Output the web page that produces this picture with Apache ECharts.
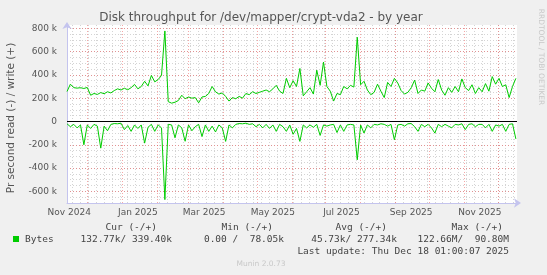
<!DOCTYPE html>
<html>
<head>
<meta charset="utf-8">
<script src="https://cdn.jsdelivr.net/npm/echarts@6/dist/echarts.min.js"></script>
<style>
  html, body { margin: 0; padding: 0; background: #f0f0f0; }
  #chart { width: 547px; height: 275px; }
</style>
</head>
<body>
<div id="chart"></div>
<script>
const DAY = 86400000;
// graph spans 400 days ending at last update
const startTime = Date.UTC(2024, 10, 13, 1, 0, 7);
const endTime = startTime + 400 * DAY;
const stepDays = 3;

// write bytes/s (k), one value per 3 days
const writeK = [
  257, 320, 290, 286, 290, 283, 292, 225, 240, 232,
  248, 238, 255, 245, 265, 280, 270, 285, 272, 290,
  318, 280, 300, 345, 305, 395, 340, 360, 395, 777,
  170, 157, 165, 180, 225, 195, 210, 200, 205, 160,
  210, 215, 240, 300, 255, 235, 245, 215, 175, 205,
  195, 215, 200, 240, 230, 255, 240, 250, 260, 270,
  255, 280, 310, 260, 240, 370, 290, 350, 300, 455,
  220, 255, 290, 235, 440, 310, 510, 300, 260, 175,
  240, 230, 300, 280, 310, 295, 723, 315, 345, 270,
  230, 250, 320, 260, 205, 335, 300, 370, 330, 265,
  235, 250, 290, 355, 240, 270, 260, 330, 285, 255,
  360, 270, 225, 290, 250, 300, 255, 365, 290, 265,
  315, 240, 290, 255, 325, 260, 385, 320, 370, 300,
  315, 205, 300, 370
];

// read bytes/s (k), drawn below zero
const readK = [
  -20, -45, -25, -55, -30, -200, -30, -60, -25, -40,
  -229, -40, -80, -25, -18, -20, -15, -70, -35, -85,
  -30, -60, -30, -186, -50, -25, -85, -30, -55, -671,
  -25, -30, -140, -30, -55, -170, -30, -80, -45, -25,
  -130, -30, -85, -40, -90, -30, -55, -171, -30, -55,
  -25, -18, -20, -15, -25, -20, -45, -25, -55, -25,
  -60, -30, -85, -25, -45, -85, -30, -110, -60, -171,
  -30, -55, -30, -50, -25, -120, -30, -40, -30, -25,
  -95, -30, -85, -30, -25, -30, -329, -30, -100, -30,
  -55, -25, -30, -20, -25, -40, -25, -157, -30, -25,
  -40, -20, -18, -45, -85, -25, -45, -25, -55, -100,
  -25, -45, -25, -40, -55, -25, -30, -20, -70, -25,
  -20, -45, -25, -25, -55, -25, -85, -30, -40, -25,
  -85, -25, -20, -150
];

const yMajorTicks = [-600, -400, -200, 0, 200, 400, 600, 800];
const monthStarts = [
  '2024-12-01', '2025-01-01', '2025-02-01', '2025-03-01', '2025-04-01', '2025-05-01',
  '2025-06-01', '2025-07-01', '2025-08-01', '2025-09-01', '2025-10-01', '2025-11-01', '2025-12-01'
];
const xLabels = ['Nov 2024', 'Jan 2025', 'Mar 2025', 'May 2025', 'Jul 2025', 'Sep 2025', 'Nov 2025'];
const xLabelDays = ['2024-11-15', '2025-01-15', '2025-03-15', '2025-05-15', '2025-07-15', '2025-09-15', '2025-11-15'];

const toTime = s => Date.parse(s + 'T00:00:00Z');
const majorX = monthStarts.map(toTime);
const labelX = xLabelDays.map(toTime);

const minorX = [];
for (let t = toTime('2024-11-18'); t < endTime; t += 7 * DAY) minorX.push(t);
const minorY = [];
for (let v = -650; v <= 800; v += 50) minorY.push(v);

const yMin = -700, yMax = 828;

const writeData = writeK.map((v, i) => [startTime + i * stepDays * DAY, v]);
const readData = readK.map((v, i) => [startTime + i * stepDays * DAY, v]);

const green = '#00cc00';
const axisBlue = '#c4c4ee';
const majorGrid = { color: 'rgba(235, 80, 80, 0.5)', width: 1, type: [1, 2] };
const minorGrid = { color: '#d4d4d4', width: 1, type: [1, 2] };

const chart = echarts.init(document.getElementById('chart'));
chart.setOption({
  backgroundColor: '#f0f0f0',
  animation: false,
  grid: {
    left: 67, right: 30, top: 25, bottom: 72,
    show: true, backgroundColor: '#ffffff', borderWidth: 0
  },
  xAxis: [
    {
      type: 'value', min: startTime, max: endTime, z: 2,
      axisLine: { show: true, onZero: false, lineStyle: { color: axisBlue, width: 1 },
        symbol: ['none', 'arrow'], symbolSize: [7, 7], symbolOffset: [0, 4] },
      axisTick: { show: false, customValues: majorX },
      axisLabel: {
        customValues: labelX, color: '#555', fontFamily: 'DejaVu Sans', fontSize: 9, margin: 5,
        formatter: v => xLabels[labelX.indexOf(v)] || ''
      },
      splitLine: { show: true, lineStyle: majorGrid }
    },
    {
      type: 'value', min: startTime, max: endTime, z: 1,
      axisLine: { show: false },
      axisTick: { show: false, customValues: minorX },
      axisLabel: { show: false, customValues: minorX },
      splitLine: { show: true, lineStyle: minorGrid }
    }
  ],
  yAxis: [
    {
      type: 'value', min: yMin, max: yMax, z: 2,
      axisLine: { show: true, lineStyle: { color: axisBlue, width: 1 },
        symbol: ['none', 'arrow'], symbolSize: [7, 7], symbolOffset: [0, 3] },
      axisTick: { show: false, customValues: yMajorTicks },
      axisLabel: {
        customValues: yMajorTicks, color: '#555', fontFamily: 'DejaVu Sans', fontSize: 9, margin: 10,
        formatter: v => v === 0 ? '0' : v + ' k'
      },
      splitLine: { show: true, lineStyle: majorGrid }
    },
    {
      type: 'value', min: yMin, max: yMax, z: 1,
      axisLine: { show: false },
      axisTick: { show: false, customValues: minorY },
      axisLabel: { show: false, customValues: minorY },
      splitLine: { show: true, lineStyle: minorGrid }
    }
  ],
  series: [
    {
      name: 'write', type: 'line', data: writeData, showSymbol: false, z: 3,
      lineStyle: { color: green, width: 1 },
      markLine: {
        silent: true, symbol: ['none', 'none'], label: { show: false },
        lineStyle: { color: '#000', type: 'solid', width: 1 },
        data: [{ yAxis: 0 }]
      }
    },
    {
      name: 'read', type: 'line', data: readData, showSymbol: false, z: 3,
      lineStyle: { color: green, width: 1 }
    }
  ],
  graphic: [
    { type: 'text', x: 261, y: 18, style: { text: 'Disk throughput for /dev/mapper/crypt-vda2 - by year',
      font: '12px "DejaVu Sans"', fill: '#555', align: 'center', verticalAlign: 'middle' } },
    { type: 'text', x: 11, y: 118, rotation: Math.PI / 2, style: { text: 'Pr second read (-) / write (+)',
      font: '10.5px "DejaVu Sans"', fill: '#555', align: 'center', verticalAlign: 'middle' } },
    { type: 'text', x: 541, y: 57, rotation: -Math.PI / 2, style: { text: 'RRDTOOL / TOBI OETIKER',
      font: '7.5px "DejaVu Sans"', fill: '#c8c8c8', align: 'center', verticalAlign: 'middle' } },

    { type: 'text', x: 157, y: 228, style: { text: 'Cur (-/+)', font: '9.5px "DejaVu Sans Mono"', fill: '#444', align: 'right', verticalAlign: 'middle' } },
    { type: 'text', x: 273, y: 228, style: { text: 'Min (-/+)', font: '9.5px "DejaVu Sans Mono"', fill: '#444', align: 'right', verticalAlign: 'middle' } },
    { type: 'text', x: 387, y: 228, style: { text: 'Avg (-/+)', font: '9.5px "DejaVu Sans Mono"', fill: '#444', align: 'right', verticalAlign: 'middle' } },
    { type: 'text', x: 503, y: 228, style: { text: 'Max (-/+)', font: '9.5px "DejaVu Sans Mono"', fill: '#444', align: 'right', verticalAlign: 'middle' } },

    { type: 'rect', shape: { x: 13, y: 236, width: 6, height: 6 }, style: { fill: green } },
    { type: 'text', x: 25, y: 240, style: { text: 'Bytes', font: '9.5px "DejaVu Sans Mono"', fill: '#444', align: 'left', verticalAlign: 'middle' } },
    { type: 'text', x: 172, y: 240, style: { text: '132.77k/ 339.40k', font: '9.5px "DejaVu Sans Mono"', fill: '#444', align: 'right', verticalAlign: 'middle' } },
    { type: 'text', x: 284, y: 240, style: { text: '0.00 /  78.05k', font: '9.5px "DejaVu Sans Mono"', fill: '#444', align: 'right', verticalAlign: 'middle' } },
    { type: 'text', x: 397, y: 240, style: { text: '45.73k/ 277.34k', font: '9.5px "DejaVu Sans Mono"', fill: '#444', align: 'right', verticalAlign: 'middle' } },
    { type: 'text', x: 509, y: 240, style: { text: '122.66M/  90.80M', font: '9.5px "DejaVu Sans Mono"', fill: '#444', align: 'right', verticalAlign: 'middle' } },
    { type: 'text', x: 509, y: 252, style: { text: 'Last update: Thu Dec 18 01:00:07 2025', font: '9.5px "DejaVu Sans Mono"', fill: '#444', align: 'right', verticalAlign: 'middle' } },

    { type: 'text', x: 261, y: 264, style: { text: 'Munin 2.0.73', font: '7.5px "DejaVu Sans"', fill: '#c8c8c8', align: 'center', verticalAlign: 'middle' } }
  ]
});
</script>
</body>
</html>
